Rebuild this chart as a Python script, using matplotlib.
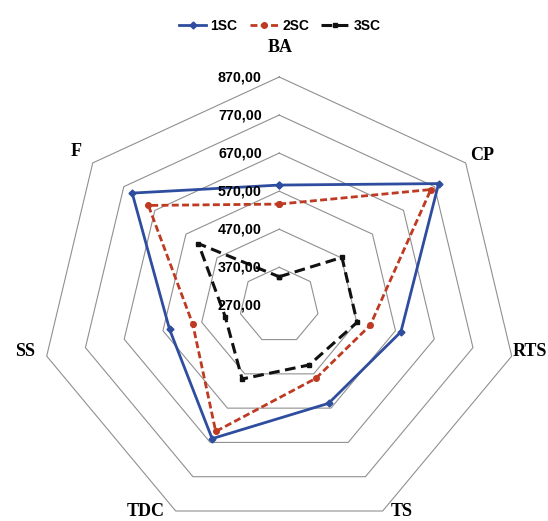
import numpy as np
import matplotlib
matplotlib.use("Agg")
import matplotlib.pyplot as plt
from matplotlib.lines import Line2D

categories = ["BA", "CP", "RTS", "TS", "TDC", "SS", "F"]
sc1 = [586, 783, 584, 556, 659, 553, 743]
sc2 = [536, 758, 505, 483, 638, 493, 691]
sc3 = [345, 472, 471, 444, 485, 409, 530]
series_names = ["1SC", "2SC", "3SC"]
tick_values = [270, 370, 470, 570, 670, 770, 870]
tick_labels = ["270,00", "370,00", "470,00", "570,00", "670,00", "770,00", "870,00"]

vmin = tick_values[0]
W, H = 548, 521
cx, cy = 279.2, 305.3          # centre in pixels (from top)
sx, sy = 0.3975, 0.3805        # pixels per unit

fig = plt.figure(figsize=(W / 100, H / 100), dpi=100)
ax = fig.add_axes([0, 0, 1, 1])
ax.set_xlim(-cx / sx, (W - cx) / sx)
ax.set_ylim(-(H - cy) / sy, cy / sy)
ax.axis("off")

n = len(categories)
angles = np.pi / 2 - 2 * np.pi * np.arange(n) / n


def xy(values):
    r = np.asarray(values, dtype=float) - vmin
    x = r * np.cos(angles)
    y = r * np.sin(angles)
    return np.append(x, x[0]), np.append(y, y[0])


def px(x, y):
    return (x - cx) / sx, (cy - y) / sy


# grid rings
for tv in tick_values[1:]:
    gx, gy = xy([tv] * n)
    ax.plot(gx, gy, color="#909090", lw=0.8, zorder=1)

# tick labels along BA axis
for tv, tl in zip(tick_values, tick_labels):
    ax.annotate(tl, (0, tv - vmin), xytext=(-12.5, 0), textcoords="offset points",
                ha="right", va="center", fontsize=10.3, fontweight="bold",
                family="Liberation Sans", color="black", zorder=5)

# series
styles = [
    dict(color="#2E4D9E", lw=2.0, ls="-", marker="D", ms=3.5),
    dict(color="#BE3A22", lw=2.0, ls=(0, (2.5, 1.2)), marker="o", ms=4),
    dict(color="#111111", lw=2.2, ls=(0, (3.5, 1.8)), marker="s", ms=3),
]
handles = []
for vals, name, st in zip([sc1, sc2, sc3], series_names, styles):
    gx, gy = xy(vals)
    ax.plot(gx, gy, color=st["color"], lw=st["lw"], ls=st["ls"], marker=st["marker"],
            ms=st["ms"], zorder=3)
    handles.append(Line2D([], [], color=st["color"], lw=st["lw"], ls=st["ls"],
                          marker=st["marker"], ms=st["ms"], label=name))

# axis labels (pixel anchors, alignment)
label_pos = {
    "BA": ((280, 48), "center", "center"),
    "CP": ((482.5, 156), "center", "center"),
    "RTS": ((513, 351), "left", "center"),
    "TS": ((401.5, 520.5), "center", "bottom"),
    "TDC": ((146, 520.5), "center", "bottom"),
    "SS": ((25, 351), "center", "center"),
    "F": ((76, 151), "center", "center"),
}
for cat in categories:
    (lx, ly), ha, va = label_pos[cat]
    dx, dy = px(lx, ly)
    ax.text(dx, dy, cat, ha=ha, va=va, fontsize=13, fontweight="bold",
            family="Liberation Serif", color="black", zorder=5)

leg = ax.legend(handles=handles, loc="center", bbox_to_anchor=(0.51, 1 - 26 / H),
                bbox_transform=fig.transFigure, ncol=3, frameon=False,
                handlelength=2.0, handletextpad=0.3, columnspacing=0.9,
                prop={"family": "Liberation Sans", "weight": "bold", "size": 10})

fig.savefig("out.png", dpi=100)
